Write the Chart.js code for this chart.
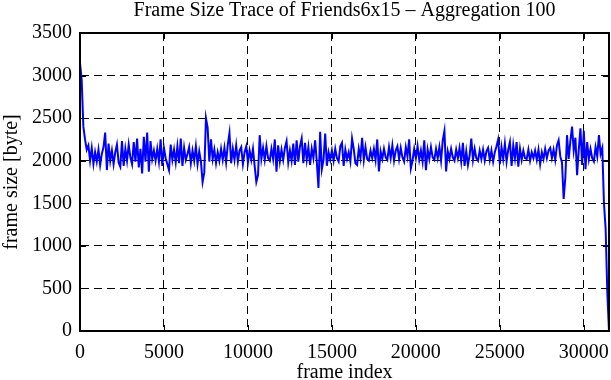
<!DOCTYPE html>
<html><head><meta charset="utf-8">
<script src="https://cdn.jsdelivr.net/npm/chart.js@4.4.0/dist/chart.umd.min.js"></script>
<style>html,body{margin:0;padding:0;background:#fff}#wrap{width:611px;height:380px}</style>
</head><body><div id="wrap"><canvas id="c" width="611" height="380"></canvas></div>
<script>
const titleText = "Frame Size Trace of Friends6x15 \u2013 Aggregation 100";
const xTitle = "frame index";
const yTitle = "frame size [byte]";
const xTicks = [0, 5000, 10000, 15000, 20000, 25000, 30000];
const yTicks = [0, 500, 1000, 1500, 2000, 2500, 3000, 3500];
const xMax = 31500;
const yMax = 3500;
const aggregation = 100;
// mean frame size per block of 100 frames
const frameSizes = [
3150, 2950, 2400, 2250, 2130, 2180, 2000, 2150, 1960, 2100,
1990, 2130, 1950, 2080, 2160, 2330, 1890, 2200, 2000, 2120,
1960, 2100, 2190, 1980, 1930, 2230, 1940, 2140, 2000, 2190,
2040, 1960, 2220, 1990, 2260, 1920, 2140, 1850, 2280, 1990,
2330, 1870, 2230, 2020, 2120, 2000, 2140, 1990, 2250, 1940,
2150, 2030, 1960, 1890, 2190, 2010, 2130, 1980, 2170, 1970,
2260, 1940, 2150, 2010, 2080, 2160, 1970, 2120, 2000, 2170,
1960, 2110, 1990, 1750, 1860, 2500, 2390, 1990, 2250, 2020,
2130, 1970, 2100, 2000, 2140, 2010, 2150, 1980, 2190, 2325,
1970, 2140, 2010, 2180, 1990, 2120, 2160, 1960, 2100, 2170,
1980, 2120, 2010, 2140, 1940, 1750, 1830, 2300, 2020, 2150,
2010, 2170, 2030, 2000, 2140, 2020, 2250, 1870, 2180, 1990,
2130, 2010, 2150, 2230, 1980, 2120, 2000, 2200, 1950, 2240,
1990, 2170, 2260, 1970, 2210, 2010, 2160, 1950, 2140, 2030,
2240, 1990, 1680, 2340, 1900, 2010, 2320, 1940, 2100, 2010,
2120, 2000, 2140, 2030, 1990, 2170, 2210, 1940, 2130, 2020,
2100, 1990, 2260, 2140, 1970, 1950, 2140, 2030, 2270, 2010,
2160, 2020, 2000, 2120, 2030, 2140, 2010, 2250, 1875, 2110,
2020, 2140, 2040, 2010, 2160, 2030, 2180, 2000, 2120, 2170,
2020, 2150, 2040, 1990, 2160, 2050, 2250, 1910, 2000, 2140,
2030, 2170, 2010, 2120, 1990, 2240, 1890, 2130, 2020, 2160,
2040, 2010, 2140, 2030, 2160, 2000, 2240, 2350, 1875, 2110,
2020, 2140, 2040, 2000, 2130, 2030, 2150, 1990, 2210, 1940,
2110, 1950, 2060, 2260, 2010, 2140, 2030, 2000, 2120, 2020,
2130, 2000, 2110, 2150, 2010, 2120, 1990, 2100, 2170, 2250,
1960, 2160, 2020, 2200, 1990, 2130, 2220, 1940, 2180, 2030,
2220, 1930, 2140, 2010, 2120, 2030, 2020, 2130, 2000, 2100,
2030, 2120, 2010, 2130, 1960, 2100, 2020, 2140, 2030, 2120,
2150, 2030, 2130, 2010, 2180, 2240, 2050, 1980, 1550, 1800,
2300, 2020, 2230, 2400, 2120, 2270, 1830, 2130, 2380, 1950,
2350, 1900, 2220, 2020, 2140, 2030, 1990, 2160, 2050, 2300,
2080, 2150, 1500, 1200, 450, 0
];
const points = frameSizes.map((v, i) => ({x: i * aggregation, y: v}));

const FONT = "'Liberation Serif', 'DejaVu Serif', serif";
const FS = 20;

const framePlugin = {
  id: 'frame',
  afterDatasetsDraw(chart) {
    const {ctx, chartArea: a, scales: {x, y}} = chart;
    ctx.save();
    ctx.strokeStyle = '#000';
    ctx.lineWidth = 1;
    const t = 6;
    ctx.beginPath();
    xTicks.forEach(v => {
      const px = Math.round(x.getPixelForValue(v)) + 0.5;
      ctx.moveTo(px, a.bottom); ctx.lineTo(px, a.bottom - t);
      ctx.moveTo(px, a.top); ctx.lineTo(px, a.top + t);
    });
    yTicks.forEach(v => {
      const py = Math.round(y.getPixelForValue(v)) + 0.5;
      ctx.moveTo(a.left, py); ctx.lineTo(a.left + t, py);
      ctx.moveTo(a.right, py); ctx.lineTo(a.right - t, py);
    });
    ctx.stroke();
    ctx.lineWidth = 2;
    ctx.strokeRect(a.left, a.top, a.right - a.left, a.bottom - a.top);
    ctx.restore();
  }
};

new Chart(document.getElementById('c'), {
  type: 'line',
  data: { datasets: [{
    data: points,
    borderColor: '#0000ff',
    borderWidth: 2,
    pointRadius: 0,
    tension: 0,
    fill: false
  }]},
  options: {
    responsive: false,
    animation: false,
    layout: { padding: { left: 0, right: 2, top: 0, bottom: 0 } },
    plugins: {
      legend: { display: false },
      tooltip: { enabled: false },
      title: {
        display: true, text: titleText, color: '#000', fullSize: false,
        font: { family: FONT, size: FS, weight: 'normal', lineHeight: 0.8 },
        padding: { top: 3, bottom: 14 }
      }
    },
    scales: {
      x: {
        type: 'linear', min: 0, max: xMax,
        afterBuildTicks: s => { s.ticks = xTicks.map(v => ({value: v})); },
        afterFit: s => { s.height = 49; s.paddingRight = 0; s.paddingLeft = 0; },
        ticks: { color: '#000', font: { family: FONT, size: FS, lineHeight: 1.2 }, padding: 10, maxRotation: 0, autoSkip: false, callback: v => String(v) },
        grid: { color: '#000', lineWidth: 1, drawTicks: false },
        border: { display: true, color: '#000', width: 2, dash: [8, 5] },
        title: { display: true, text: xTitle, color: '#000', font: { family: FONT, size: FS, lineHeight: 0.7 }, padding: { top: 0, bottom: 0 } }
      },
      y: {
        type: 'linear', min: 0, max: yMax,
        afterBuildTicks: s => { s.ticks = yTicks.map(v => ({value: v})); },
        afterFit: s => { s.width = 80; },
        ticks: { color: '#000', font: { family: FONT, size: FS }, padding: 8, autoSkip: false, callback: v => String(v) },
        grid: { color: '#000', lineWidth: 1, drawTicks: false },
        border: { display: true, color: '#000', width: 2, dash: [8, 5] },
        title: { display: true, text: yTitle, color: '#000', font: { family: FONT, size: FS, lineHeight: 1 }, padding: { top: 2, bottom: 0 } }
      }
    }
  },
  plugins: [framePlugin]
});
</script>
</body></html>
